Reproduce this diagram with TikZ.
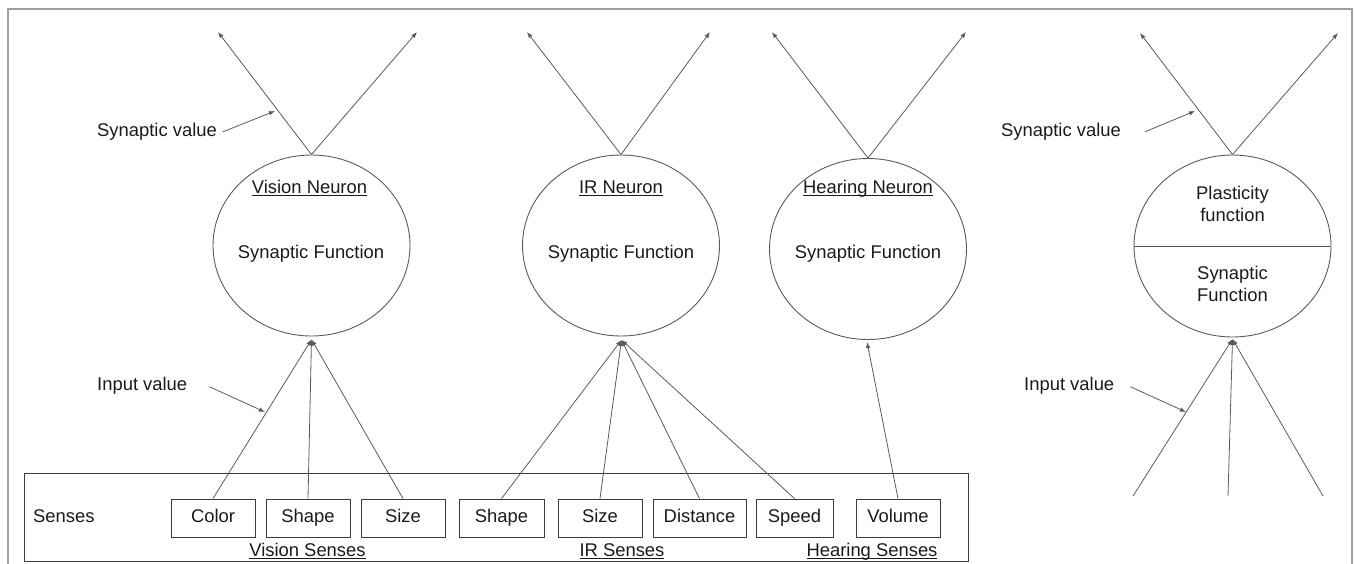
\documentclass[tikz,border=0pt]{standalone}
\usepackage{fontspec}
\setmainfont{Liberation Sans}
\usetikzlibrary{shapes.geometric,arrows.meta}
\definecolor{linegray}{HTML}{5A5A5A}
\definecolor{boxgray}{HTML}{3C3C3C}
\definecolor{framegray}{HTML}{A0A0A0}
\definecolor{ink}{HTML}{1A1A1A}
% underlined text with the rule at a fixed depth below the baseline
\newcommand{\ulabel}[1]{\setbox0=\hbox{#1}\rlap{\rule[-2.6pt]{\wd0}{0.9pt}}\box0}
\begin{document}
\begin{tikzpicture}[x=1pt,y=-1pt,
  every node/.style={font=\fontsize{18.4}{22}\selectfont, text=ink},
  neuron/.style={ellipse, draw=linegray, line width=0.9pt, minimum width=197pt, minimum height=181pt, inner sep=0pt},
  sensebox/.style={draw=boxgray, line width=0.9pt, minimum height=38pt, inner sep=0pt, text height=13pt, text depth=4pt},
  txt/.style={anchor=base, inner sep=0pt},
  wire/.style={draw=linegray, line width=0.8pt, -{Latex[length=6pt,width=4.5pt]}},
  plain/.style={draw=linegray, line width=0.8pt},
]
\useasboundingbox (0,0) rectangle (1356,563);

% outer frame
\draw[framegray, line width=1.2pt] (8,570) -- (8,9) -- (1352,9) -- (1352,570);

% senses container
\node[draw=boxgray, line width=0.9pt, minimum width=944pt, minimum height=88.5pt, inner sep=0pt] (senses) at (496,517.25) {};
\node[txt, anchor=base west] (sensestitle) at (33,522) {Senses};

% sense boxes
\node[sensebox, minimum width=84pt] (vcolor) at (213,518) {Color};
\node[sensebox, minimum width=84pt] (vshape) at (308,518) {Shape};
\node[sensebox, minimum width=84pt] (vsize)  at (403,518) {Size};
\node[sensebox, minimum width=85pt] (irshape) at (501.5,518) {Shape};
\node[sensebox, minimum width=84pt] (irsize)  at (600,518) {Size};
\node[sensebox, minimum width=93pt] (irdist)  at (699.5,518) {Distance};
\node[sensebox, minimum width=77pt] (irspeed) at (794.5,518) {Speed};
\node[sensebox, minimum width=84pt] (hvol)    at (898,518) {Volume};

\node[txt] (vsenses) at (307.5,556) {\ulabel{Vision Senses}};
\node[txt] (irsenses) at (622,556) {\ulabel{IR Senses}};
\node[txt] (hsenses) at (872,556) {\ulabel{Hearing Senses}};

% neurons
\node[neuron] (vn) at (311.5,245.5) {};
\node[neuron] (irn) at (621,245.5) {};
\node[neuron] (hn) at (868,249) {};
\node[neuron, minimum height=182pt] (pn) at (1232.5,246) {};
\draw[linegray, line width=0.9pt] (pn.west) -- (pn.east);

\node[txt] (vntitle) at (309.5,193) {\ulabel{Vision Neuron}};
\node[txt] (vnfun) at (311,258) {Synaptic Function};
\node[txt] (irntitle) at (621,193) {\ulabel{IR Neuron}};
\node[txt] (irnfun) at (621,258) {Synaptic Function};
\node[txt] (hntitle) at (868,193) {\ulabel{Hearing Neuron}};
\node[txt] (hnfun) at (868,258) {Synaptic Function};
\node[align=center, inner sep=0pt] (pnplast) at (1232.5,204) {Plasticity\\function};
\node[align=center, inner sep=0pt] (pnsyn) at (1232.5,284) {Synaptic\\Function};

% output connectors
\coordinate (vout1) at (218,32);
\coordinate (vout2) at (417,32);
\coordinate (irout1) at (527,32);
\coordinate (irout2) at (710,32);
\coordinate (hout1) at (772,32);
\coordinate (hout2) at (966,32);
\coordinate (pout1) at (1140,33);
\coordinate (pout2) at (1338,33);
\foreach \n/\a/\b in {vn/vout1/vout2, irn/irout1/irout2, hn/hout1/hout2, pn/pout1/pout2}{
  \draw[wire] (\n.north) -- (\a);
  \draw[wire] (\n.north) -- (\b);
}

% input connectors
\coordinate (vin) at (311.5,339.5);
\coordinate (irin) at (621.5,340);
\coordinate (hin) at (867,342);
\coordinate (pin) at (1232.5,339);
\foreach \s in {vcolor, vshape, vsize}{ \draw[wire] (\s.north) -- (vin); }
\foreach \s in {irshape, irsize, irdist, irspeed}{ \draw[wire] (\s.north) -- (irin); }
\draw[wire] (hvol.north) -- (hin);
\coordinate (pfree1) at (1133,496);
\coordinate (pfree2) at (1228,496);
\coordinate (pfree3) at (1323,496);
\foreach \c in {pfree1, pfree2, pfree3}{ \draw[wire] (\c) -- (pin); }

% value labels with pointers
\node[txt, anchor=base west] (vsyn) at (97,136.5) {Synaptic value};
\node[txt, anchor=base west] (vinp) at (97,390.5) {Input value};
\node[txt, anchor=base west] (psyn) at (1001,136.5) {Synaptic value};
\node[txt, anchor=base west] (pinp) at (1024,390.5) {Input value};
\coordinate (vsynp) at (275,111);
\coordinate (vinpp) at (265,412);
\coordinate (psynp) at (1195,111);
\coordinate (pinpp) at (1186,412);
\draw[wire] ([xshift=6pt]vsyn.east) -- (vsynp);
\draw[wire] ([xshift=22pt,yshift=-1pt]vinp.east) -- (vinpp);
\draw[wire] ([xshift=24pt]psyn.east) -- (psynp);
\draw[wire] ([xshift=16pt,yshift=-1pt]pinp.east) -- (pinpp);
\end{tikzpicture}
\end{document}
